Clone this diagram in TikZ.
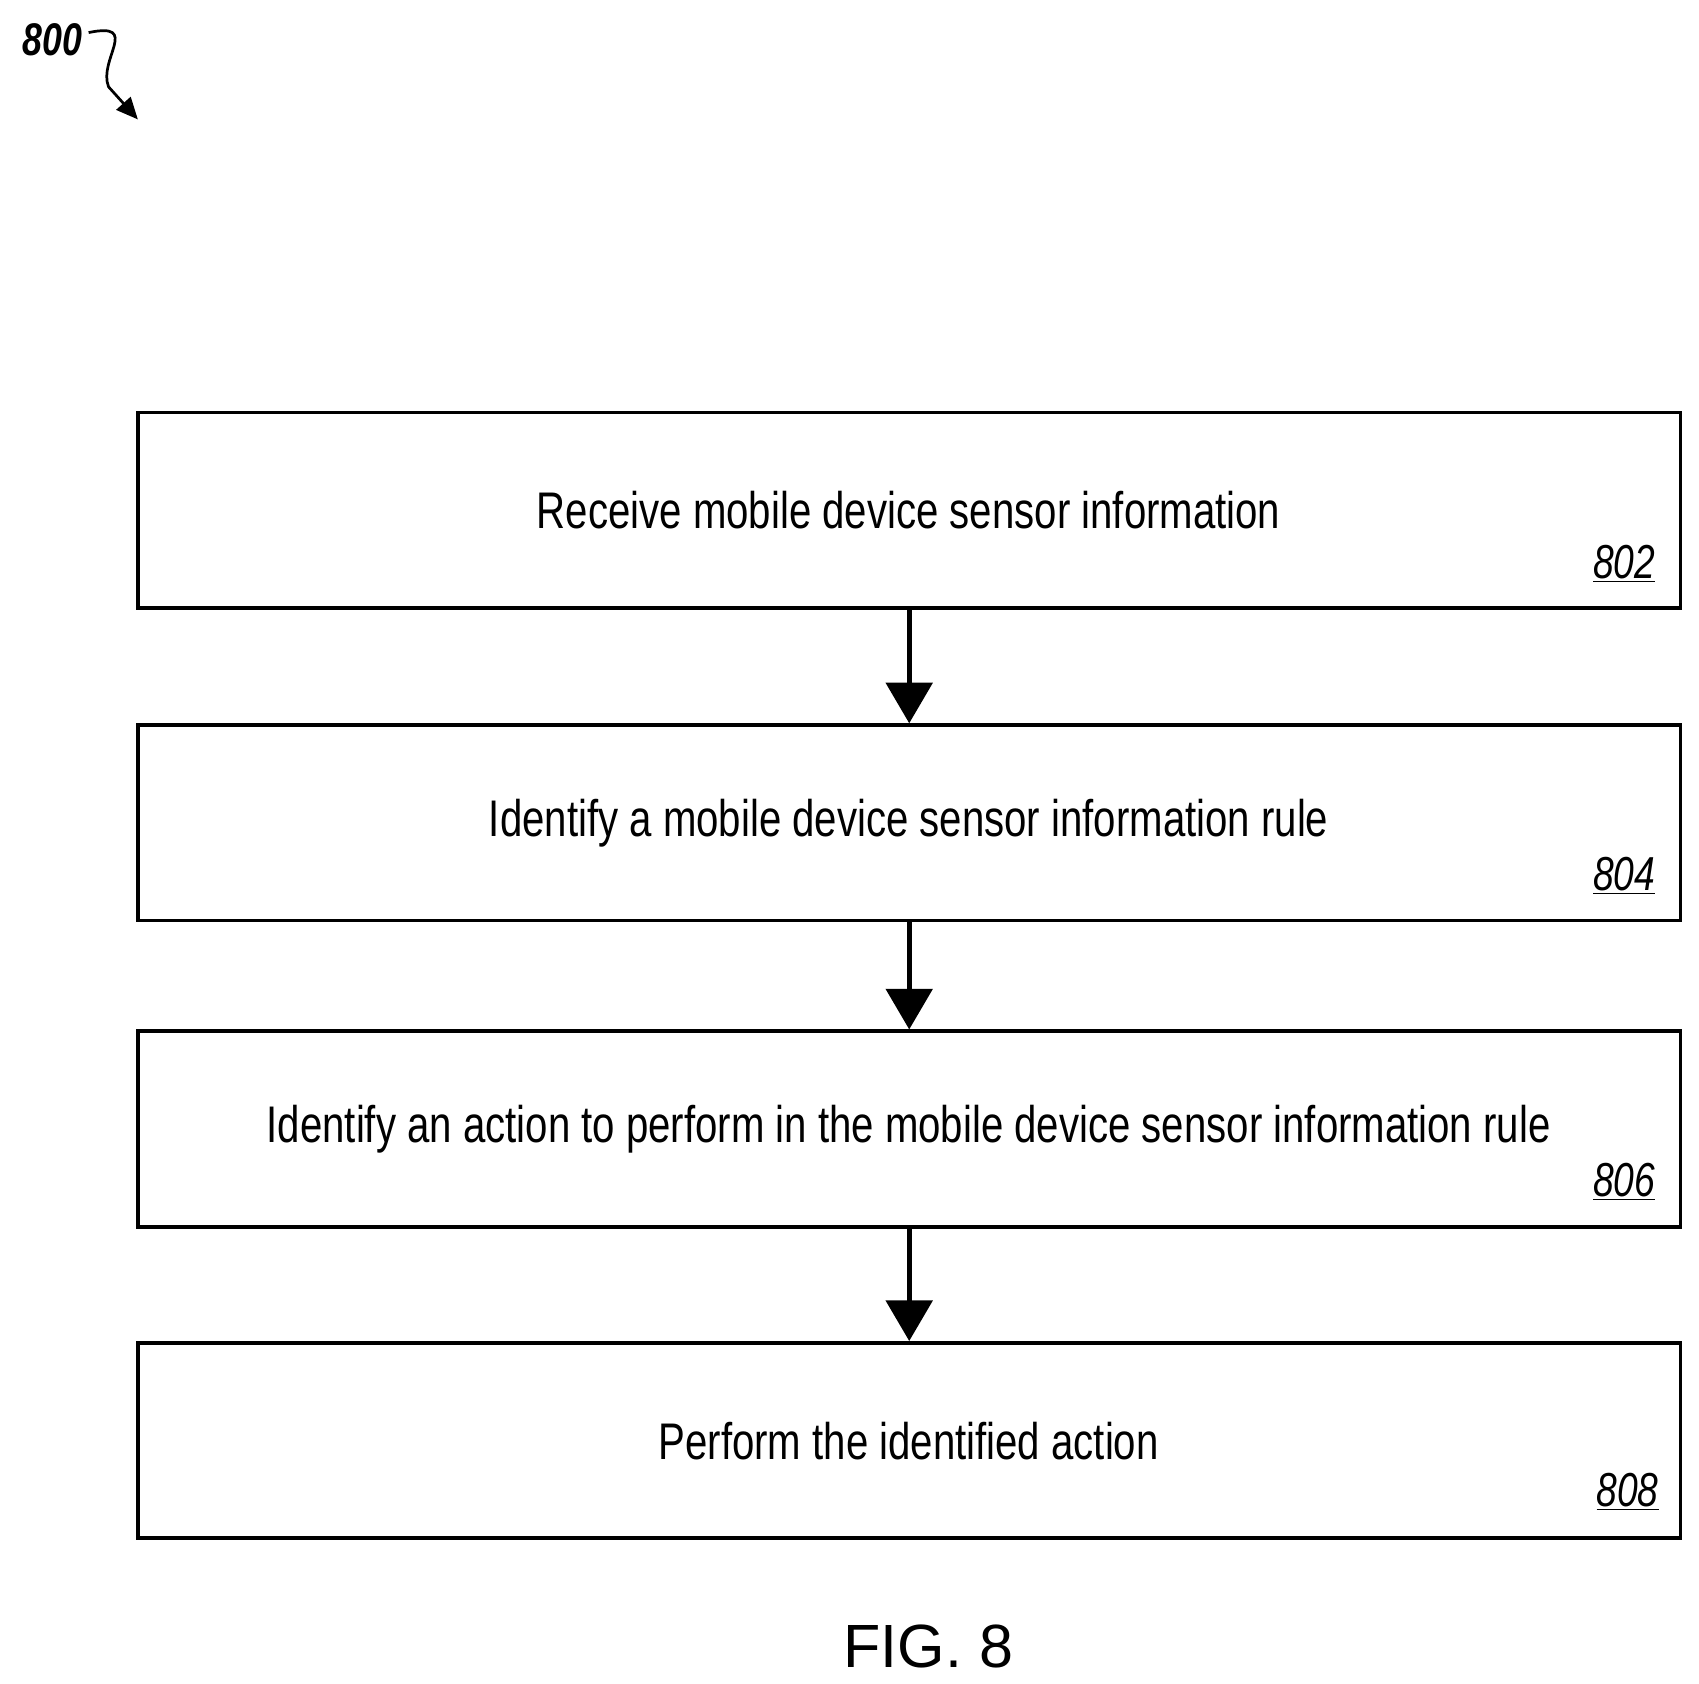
\documentclass[tikz,border=0pt]{standalone}
\usepackage{fontspec}
\setmainfont{Liberation Sans}
\newfontfamily\narrowf[FakeStretch=0.78]{Liberation Sans}
\usetikzlibrary{arrows.meta}
\begin{document}
\begin{tikzpicture}[x=0.02cm,y=-0.02cm,
  box/.style={draw,line width=0.07cm,minimum width=28.42cm,minimum height=3.6cm,inner sep=0pt},
  txt/.style={font=\narrowf\fontsize{27}{30}\selectfont},
  num/.style={font=\narrowf\itshape\fontsize{25}{28}\selectfont,anchor=south east},
  arr/.style={line width=0.1cm,-{Triangle[length=0.75cm,width=0.85cm]}}]
\useasboundingbox (0,0) rectangle (1565,1551);
\node[box] (b1) at (837.5,470) {};
\node[box] (b2) at (837.5,758) {};
\node[box] (b3) at (837.5,1040) {};
\node[box] (b4) at (837.5,1327) {};
\node[txt] (t1) at (837,470) {Receive mobile device sensor information};
\node[txt] (t2) at (837,758) {Identify a mobile device sensor information rule};
\node[txt] (t3) at (837,1040) {Identify an action to perform in the mobile device sensor information rule};
\node[txt] (t4) at (837,1327) {Perform the identified action};
\node[num] (n1) at (1531,543) {\underline{802}};
\node[num] (n2) at (1531,830) {\underline{804}};
\node[num] (n3) at (1531,1112) {\underline{806}};
\node[num] (n4) at (1534,1398) {\underline{808}};
\draw[arr] (b1.south) -- (b2.north);
\draw[arr] (b2.south) -- (b3.north);
\draw[arr] (b3.south) -- (b4.north);
\node[font=\fontsize{32}{36}\selectfont] (fig) at (855,1517) {FIG. 8};
\node[font=\narrowf\bfseries\itshape\fontsize{24}{28}\selectfont] (lab) at (48,37) {800};
\coordinate (tip) at (127,110);
\draw[line width=0.05cm,-{Triangle[length=0.4cm,width=0.35cm]}] (lab.east) ++(0,-7) .. controls (130,20) and (90,55) .. (100,80) -- (tip);
\end{tikzpicture}
\end{document}
